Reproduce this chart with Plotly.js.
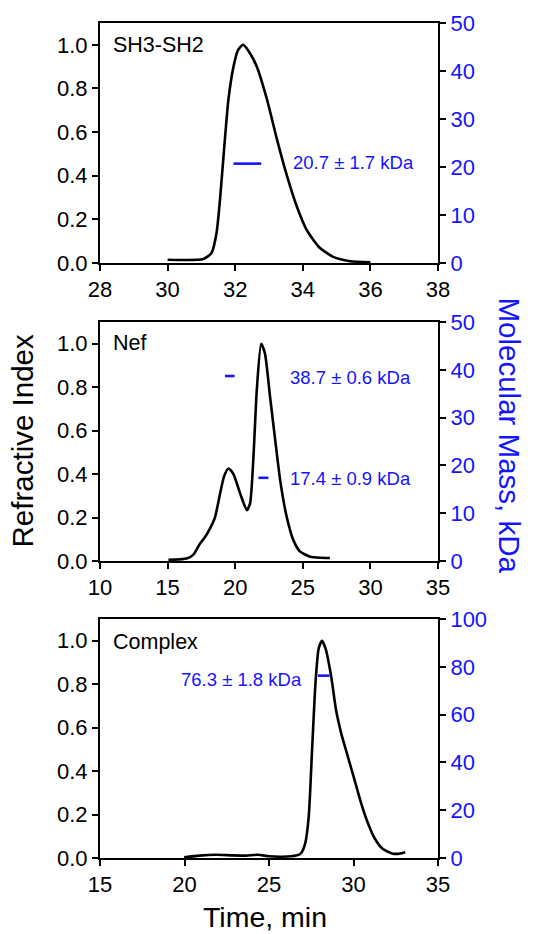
<!DOCTYPE html>
<html>
<head>
<meta charset="utf-8">
<script src="https://cdn.plot.ly/plotly-3.0.1.min.js"></script>
<style>html,body{margin:0;padding:0;background:#fff;}#chart{width:557px;height:934px;}</style>
</head>
<body>
<div id="chart"></div>
<script>
// ---- Panel 1: SH3-SH2 ----
const shTime = [30.0, 31.06, 31.3, 31.45, 31.55, 31.67, 31.8, 31.95, 32.08, 32.23, 32.38, 32.64, 32.94, 33.23, 33.53, 33.82, 34.12, 34.5, 34.9, 35.4, 36.0];
const shRI   = [0.015, 0.018, 0.046, 0.14, 0.29, 0.52, 0.75, 0.90, 0.975, 1.0, 0.975, 0.90, 0.75, 0.57, 0.40, 0.26, 0.15, 0.07, 0.028, 0.008, 0.003];
const shMassTime = [31.95, 32.77];
const shMass = [20.7, 20.7];
const shLabel = "20.7 ± 1.7 kDa";

// ---- Panel 2: Nef ----
const nefTime = [15.06, 16.4, 16.9, 17.4, 17.77, 18.14, 18.5, 18.88, 19.18, 19.5, 19.87, 20.37, 20.86, 21.1, 21.35, 21.6, 21.92, 22.2, 22.58, 22.96, 23.33, 23.82, 24.3, 24.8, 25.55, 26.3, 27.0];
const nefRI   = [0.005, 0.011, 0.028, 0.08, 0.11, 0.15, 0.20, 0.31, 0.39, 0.426, 0.40, 0.31, 0.234, 0.265, 0.48, 0.79, 1.0, 0.955, 0.755, 0.556, 0.37, 0.20, 0.096, 0.043, 0.02, 0.015, 0.014];
const nefMassTimeA = [19.25, 19.95];
const nefMassA = [38.7, 38.7];
const nefMassTimeB = [21.72, 22.46];
const nefMassB = [17.4, 17.4];
const nefLabelA = "38.7 ± 0.6 kDa";
const nefLabelB = "17.4 ± 0.9 kDa";

// ---- Panel 3: Complex ----
const cxTime = [19.98, 20.87, 21.86, 22.85, 23.64, 24.33, 25.0, 25.8, 26.6, 26.9, 27.15, 27.35, 27.55, 27.75, 27.94, 28.14, 28.36, 28.68, 28.97, 29.27, 29.66, 30.06, 30.45, 30.85, 31.24, 31.74, 32.33, 32.73, 33.06];
const cxRI   = [0.003, 0.011, 0.015, 0.012, 0.011, 0.015, 0.008, 0.006, 0.011, 0.023, 0.07, 0.19, 0.50, 0.805, 0.965, 1.0, 0.96, 0.835, 0.68, 0.575, 0.468, 0.36, 0.253, 0.161, 0.092, 0.041, 0.02, 0.02, 0.026];
const cxMassTime = [27.89, 28.58];
const cxMass = [76.3, 76.3];
const cxLabel = "76.3 ± 1.8 kDa";

const panelNames = ["SH3-SH2", "Nef", "Complex"];
const riTicks = [0, 0.2, 0.4, 0.6, 0.8, 1.0];
const BLUE = "rgb(20,20,255)";
const FONT = "Liberation Sans, Arial, Helvetica, sans-serif";

function riTrace(x, y, xa, ya) {
  return {x: x, y: y, xaxis: xa, yaxis: ya, type: "scatter", mode: "lines",
          line: {color: "black", width: 2.6, shape: "spline", smoothing: 0.6},
          hoverinfo: "skip", showlegend: false};
}
function massTrace(x, y, xa, ya) {
  return {x: x, y: y, xaxis: xa, yaxis: ya, type: "scatter", mode: "lines",
          line: {color: BLUE, width: 2.6}, hoverinfo: "skip", showlegend: false};
}

const data = [
  riTrace(shTime, shRI, "x", "y"),
  massTrace(shMassTime, shMass, "x", "y2"),
  riTrace(nefTime, nefRI, "x2", "y3"),
  massTrace(nefMassTimeA, nefMassA, "x2", "y4"),
  massTrace(nefMassTimeB, nefMassB, "x2", "y4"),
  riTrace(cxTime, cxRI, "x3", "y5"),
  massTrace(cxMassTime, cxMass, "x3", "y6")
];

const tickfont = {family: FONT, size: 22, color: "black"};
const blueTickfont = {family: FONT, size: 22, color: BLUE};
function xAx(range, dtick, anchor) {
  return {range: range, dtick: dtick, tick0: range[0], anchor: anchor, domain: [0, 1],
          showline: true, linecolor: "black", linewidth: 2, mirror: true,
          ticks: "outside", ticklen: 6, tickwidth: 2, tickcolor: "black",
          showgrid: false, zeroline: false, tickfont: tickfont, fixedrange: true};
}
function yLeft(domain, anchor) {
  return {range: [0, 1.1], tickvals: riTicks, tickformat: ".1f", anchor: anchor, domain: domain,
          showline: true, linecolor: "black", linewidth: 2,
          ticks: "outside", ticklen: 6, tickwidth: 2, tickcolor: "black",
          showgrid: false, zeroline: false, tickfont: tickfont, fixedrange: true};
}
function yRight(range, dtick, overlay, anchor) {
  return {range: range, dtick: dtick, tick0: 0, overlaying: overlay, side: "right", anchor: anchor,
          showline: true, linecolor: "black", linewidth: 2,
          ticks: "outside", ticklen: 6, tickwidth: 2, tickcolor: "black",
          showgrid: false, zeroline: false, tickfont: blueTickfont, fixedrange: true};
}

const d1 = [0.7126, 1.0], d2 = [0.3557, 0.6419], d3 = [0.0, 0.2862];

function nameAnn(text, xref, yref, y) {
  return {text: text, xref: xref + " domain", yref: yref + " domain", x: 0.033, y: y,
          xanchor: "left", yanchor: "middle", showarrow: false,
          font: {family: FONT, size: 21.5, color: "black"}};
}
function massAnn(text, xref, yref, x, y, anchor) {
  return {text: text, xref: xref, yref: yref, x: x, y: y, xanchor: anchor, yanchor: "middle",
          showarrow: false, font: {family: FONT, size: 18.5, color: BLUE}};
}

const layout = {
  width: 557, height: 934,
  margin: {l: 100, r: 119, t: 23, b: 76},
  paper_bgcolor: "white", plot_bgcolor: "white",
  font: {family: FONT, color: "black"},
  showlegend: false,
  xaxis: xAx([28, 38], 2, "y"),
  yaxis: yLeft(d1, "x"),
  yaxis2: yRight([0, 50], 10, "y", "x"),
  xaxis2: xAx([10, 35], 5, "y3"),
  yaxis3: yLeft(d2, "x2"),
  yaxis4: yRight([0, 50], 10, "y3", "x2"),
  xaxis3: xAx([15, 35], 5, "y5"),
  yaxis5: yLeft(d3, "x3"),
  yaxis6: yRight([0, 100], 20, "y5", "x3"),
  annotations: [
    nameAnn(panelNames[0], "x", "y", 0.908),
    nameAnn(panelNames[1], "x2", "y3", 0.911),
    nameAnn(panelNames[2], "x3", "y5", 0.905),
    massAnn(shLabel, "x", "y2", 33.66, 20.9, "left"),
    massAnn(nefLabelA, "x2", "y4", 23.94, 38.4, "left"),
    massAnn(nefLabelB, "x2", "y4", 23.94, 17.2, "left"),
    massAnn(cxLabel, "x3", "y6", 27.06, 74.9, "right"),
    {text: "Refractive Index", xref: "paper", yref: "paper", x: -0.228, y: 0.5,
     xanchor: "center", yanchor: "middle", textangle: -90, showarrow: false,
     font: {family: FONT, size: 29.5, color: "black"}},
    {text: "Molecular Mass, kDa", xref: "paper", yref: "paper", x: 1.213, y: 0.506,
     xanchor: "center", yanchor: "middle", textangle: 90, showarrow: false,
     font: {family: FONT, size: 29.5, color: BLUE}},
    {text: "Time, min", xref: "paper", yref: "paper", x: 0.488, y: -0.071,
     xanchor: "center", yanchor: "middle", showarrow: false,
     font: {family: FONT, size: 28.5, color: "black"}}
  ]
};

Plotly.newPlot("chart", data, layout, {staticPlot: true, displayModeBar: false});
</script>
</body>
</html>
